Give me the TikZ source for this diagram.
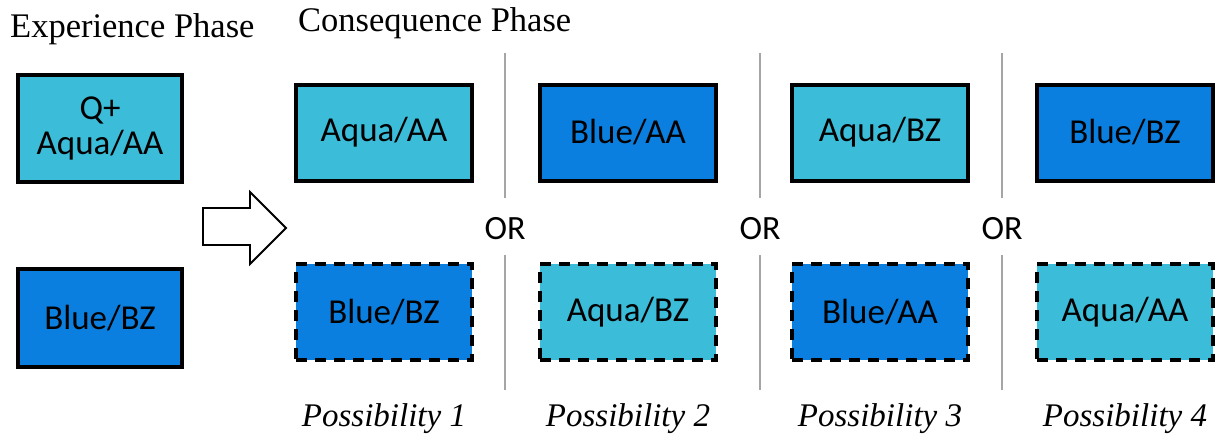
\documentclass[tikz,border=0pt]{standalone}
\usepackage{fontspec}
\setmainfont{Liberation Serif}
\newfontfamily\boxfont{Carlito}
\begin{document}
\begin{tikzpicture}[x=1pt,y=-1pt,
  box/.style={rectangle,draw=black,line width=4pt,minimum width=176pt,minimum height=96pt,inner sep=0pt,font=\boxfont\fontsize{35}{38}\selectfont,align=center},
  aqua/.style={fill=aquac},
  bluec/.style={fill=bluecol},
  dashbox/.style={dash pattern=on 11pt off 8pt},
  sep/.style={draw=sepgray,line width=1.8pt},
  ortext/.style={font=\boxfont\fontsize{34}{38}\selectfont,inner sep=0pt},
  title/.style={font=\fontsize{34.5}{38}\selectfont,anchor=base west,inner sep=0pt},
  poss/.style={font=\itshape\fontsize{33}{36}\selectfont,anchor=base,inner sep=0pt}]
\definecolor{aquac}{RGB}{59,188,216}
\definecolor{bluecol}{RGB}{10,127,223}
\definecolor{sepgray}{RGB}{165,165,165}
\useasboundingbox (0,0) rectangle (1224,437);
\fill[white] (0,0) rectangle (1224,437);
% titles
\node[title] (t1) at (10,37) {Experience Phase};
\node[title] (t2) at (298,31) {Consequence Phase};
% experience boxes
\node[box,aqua,minimum width=164pt,minimum height=107pt] (e1) at (100,128.5) {Q+\\[-3pt]Aqua/AA};
\node[box,bluec,minimum width=164pt,minimum height=98pt] (e2) at (100,318) {Blue/BZ};
% block arrow
\draw[line width=1.8pt,fill=white,line join=miter] (203,208) -- (250,208) -- (250,192) -- (286,228) -- (250,264) -- (250,245) -- (203,245) -- cycle;
% consequence top
\node[box,aqua] (a1) at (384,132.5) {Aqua/AA};
\node[box,bluec] (a2) at (628,132.5) {Blue/AA};
\node[box,aqua] (a3) at (880,132.5) {Aqua/BZ};
\node[box,bluec] (a4) at (1125,132.5) {Blue/BZ};
% consequence bottom
\node[box,bluec,dashbox] (b1) at (384,312) {Blue/BZ};
\node[box,aqua,dashbox] (b2) at (628,312) {Aqua/BZ};
\node[box,bluec,dashbox] (b3) at (880,312) {Blue/AA};
\node[box,aqua,dashbox] (b4) at (1125,312) {Aqua/AA};
% separators and OR
\foreach \x/\n in {505/1,760/2,1002/3}{
  \node[ortext] (or\n) at (\x,229) {OR};
  \coordinate (st\n) at (\x,53);
  \coordinate (sb\n) at (\x,390);
  \draw[sep] (st\n) -- (\x,198);
  \draw[sep] (\x,255) -- (sb\n);
}
% possibility labels
\node[poss] (p1) at (384,426) {Possibility 1};
\node[poss] (p2) at (628,426) {Possibility 2};
\node[poss] (p3) at (880,426) {Possibility 3};
\node[poss] (p4) at (1125,426) {Possibility 4};
\end{tikzpicture}
\end{document}
